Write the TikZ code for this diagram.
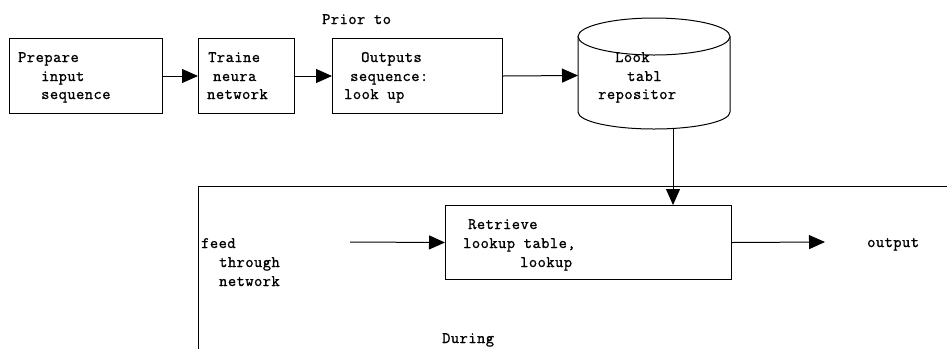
\documentclass[tikz,border=0pt]{standalone}
\usepackage{fontspec}
\usetikzlibrary{arrows.meta}
\newfontfamily\labelfont{Latin Modern Mono}[LetterSpace=3,FakeBold=1.2]
\begin{document}
\begin{tikzpicture}[x=1pt,y=-1pt,
  box/.style={draw,line width=1pt,inner sep=0pt,anchor=north west},
  lbl/.style={anchor=base west,inner sep=0pt,font=\labelfont\fontsize{16}{18}\selectfont},
  flow/.style={line width=1pt,-{Triangle[length=16pt,width=14pt]}},
  edge/.style={line width=1pt}]
\useasboundingbox (0,0) rectangle (947,349);

% upper row: preparation stage
\node[box,minimum width=153pt,minimum height=75pt] (prep) at (9,38) {};
\node[lbl] (prep1) at (18,62) {Prepare};
\node[lbl] (prep2) at (41,81) {input};
\node[lbl] (prep3) at (41,99) {sequence};

\node[box,minimum width=96pt,minimum height=75pt] (train) at (198,38) {};
\node[lbl] (train1) at (208,62) {Traine};
\node[lbl] (train2) at (213,81) {neura};
\node[lbl] (train3) at (207,99) {network};

\node[box,minimum width=170pt,minimum height=75pt] (outs) at (332,38) {};
\node[lbl] (outs1) at (361,62) {Outputs};
\node[lbl] (outs2) at (350,81) {sequence:};
\node[lbl] (outs3) at (344,99) {look up};

\node[lbl] (prior) at (322,24) {Prior to};

% repository cylinder
\draw[edge] (654,36.5) ellipse [x radius=76, y radius=18.5];
\draw[edge] (578,36.5) -- (578,112) arc [start angle=180, end angle=0, x radius=76, y radius=17] -- (730,36.5);
\coordinate (cylW) at (578,75.5);
\coordinate (cylS) at (673,128.5);
\node[lbl] (look1) at (615,62) {Look};
\node[lbl] (look2) at (627,81) {tabl};
\node[lbl] (look3) at (598,99) {repositor};

% lower frame: runtime stage
\draw[edge] (947,186.5) -- (198.5,186.5) -- (198.5,349);

\node[box,minimum width=286pt,minimum height=74pt] (retr) at (445,205) {};
\node[lbl] (retr1) at (468,229) {Retrieve};
\node[lbl] (retr2) at (463,248) {lookup table,};
\node[lbl] (retr3) at (520,267) {lookup};

\node[lbl] (feed1) at (201,248) {feed};
\node[lbl] (feed2) at (219,267) {through};
\node[lbl] (feed3) at (219,286) {network};
\coordinate (feedEnd) at (350,242);

\node[lbl] (outp) at (867,247) {output};
\coordinate (outEnd) at (825,242);

\node[lbl] (during) at (442,343) {During};

% connectors
\draw[flow] (prep.east) -- (train.west);
\draw[flow] (train.east) -- (outs.west);
\draw[flow] (outs.east) -- (cylW);
\draw[flow] (cylS) -- (cylS |- retr.north);
\draw[flow] (feedEnd) -- (retr.west);
\draw[flow] (retr.east) -- (outEnd);
\end{tikzpicture}
\end{document}
